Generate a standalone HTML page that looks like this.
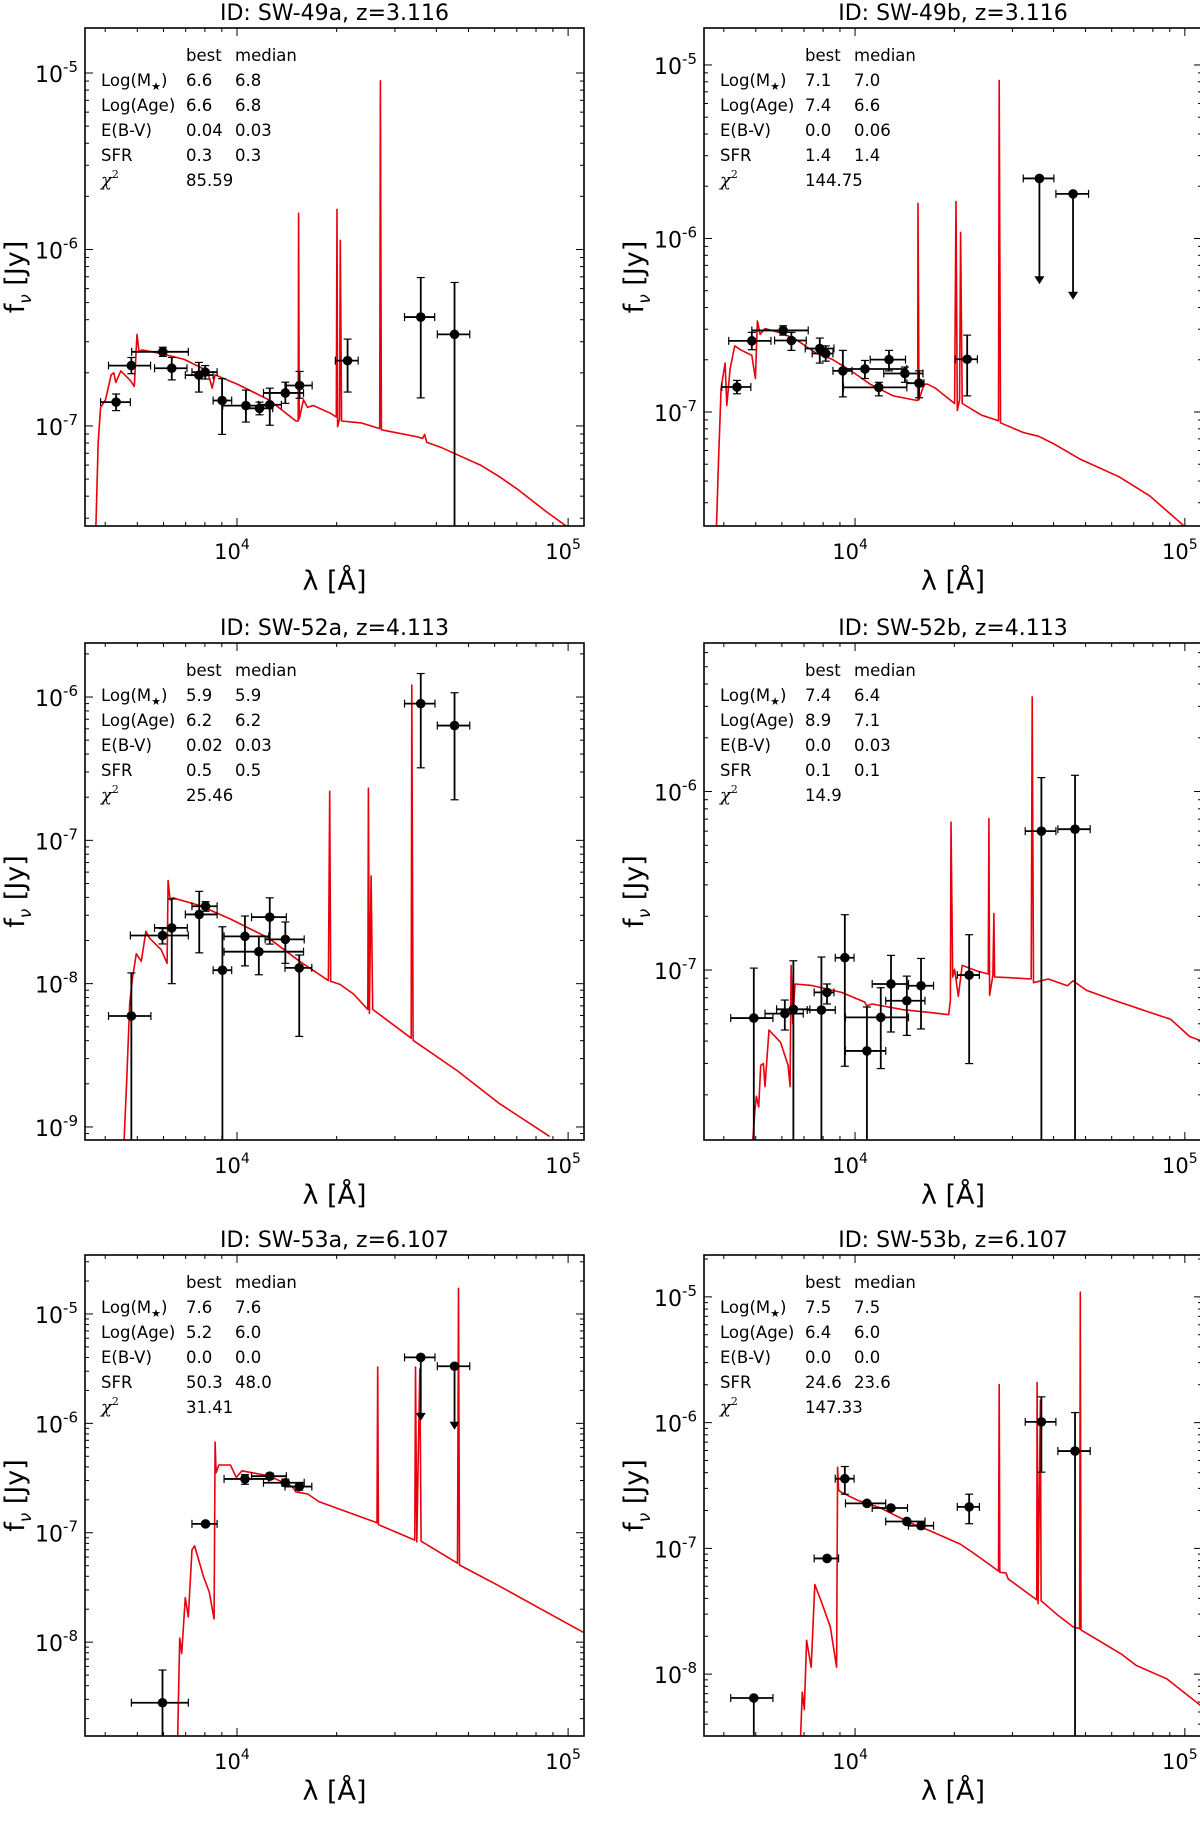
<!DOCTYPE html>
<html><head><meta charset="utf-8"><style>
html,body{margin:0;padding:0;background:#fff;}
svg{display:block;font-family:"DejaVu Sans","Liberation Sans",sans-serif;}
</style></head><body>
<svg id="fig" width="1200" height="1821" viewBox="0 0 1200 1821" xmlns="http://www.w3.org/2000/svg"></svg>
<script>
// All values stored as log10(lambda [Angstrom]) and log10(f_nu [Jy]).
// Points: [logLam, logLamLo, logLamHi, logF, logFLo, logFHi]; logFLo=-10 => bar to bottom
const panelTitles = ["ID: SW-49a, z=3.116","ID: SW-49b, z=3.116","ID: SW-52a, z=4.113","ID: SW-52b, z=4.113","ID: SW-53a, z=6.107","ID: SW-53b, z=6.107"];
const panelBest = [["6.6","6.6","0.04","0.3","85.59"],["7.1","7.4","0.0","1.4","144.75"],["5.9","6.2","0.02","0.5","25.46"],["7.4","8.9","0.0","0.1","14.9"],["7.6","5.2","0.0","50.3","31.41"],["7.5","6.4","0.0","24.6","147.33"]];
const panelMedian = [["6.8","6.8","0.03","0.3"],["7.0","6.6","0.06","1.4"],["5.9","6.2","0.03","0.5"],["6.4","7.1","0.03","0.1"],["7.6","6.0","0.0","48.0"],["7.5","6.0","0.0","23.6"]];
const panelYRange = [[-7.567,-4.745],[-7.657,-4.787],[-9.091,-5.623],[-7.952,-5.168],[-8.858,-4.461],[-8.492,-4.667]];
const panelYDecades = [[-7,-6,-5],[-7,-6,-5],[-9,-8,-7,-6],[-7,-6],[-8,-7,-6,-5],[-8,-7,-6,-5]];
const xDecades = [4,5];

const p1Points = [[3.635,3.588,3.678,-6.865,-6.913,-6.819],[3.681,3.612,3.739,-6.658,-6.704,-6.612],[3.776,3.682,3.853,-6.580,-6.606,-6.554],[3.803,3.751,3.849,-6.673,-6.739,-6.612],[3.885,3.844,3.928,-6.712,-6.808,-6.640],[3.904,3.864,3.940,-6.695,-6.734,-6.658],[3.955,3.928,3.984,-6.856,-7.048,-6.732],[4.027,3.957,4.096,-6.885,-6.978,-6.797],[4.068,4.027,4.108,-6.900,-6.937,-6.865],[4.099,4.065,4.134,-6.880,-6.996,-6.786],[4.146,4.080,4.201,-6.813,-6.872,-6.752],[4.189,4.149,4.227,-6.771,-6.843,-6.691],[4.334,4.297,4.366,-6.630,-6.808,-6.508],[4.555,4.506,4.597,-6.383,-6.841,-6.159],[4.657,4.605,4.703,-6.481,-10,-6.187]];
const p1Upper = [];
const p1Model = [[3.574,-7.567],[3.581,-7.092],[3.588,-6.895],[3.603,-6.852],[3.620,-6.710],[3.628,-6.699],[3.634,-6.754],[3.649,-6.688],[3.678,-6.743],[3.690,-6.776],[3.698,-6.481],[3.704,-6.580],[3.713,-6.569],[3.771,-6.590],[3.841,-6.623],[3.911,-6.688],[3.925,-6.786],[3.934,-6.710],[4.003,-6.765],[4.096,-6.852],[4.178,-6.972],[4.185,-6.972],[4.186,-5.795],[4.188,-6.961],[4.201,-6.852],[4.213,-6.895],[4.230,-6.884],[4.282,-6.928],[4.300,-6.950],[4.302,-5.773],[4.304,-7.004],[4.310,-6.961],[4.312,-5.948],[4.316,-6.972],[4.375,-6.983],[4.431,-7.015],[4.433,-5.044],[4.436,-7.022],[4.538,-7.059],[4.561,-7.070],[4.567,-7.048],[4.573,-7.092],[4.619,-7.124],[4.735,-7.222],[4.793,-7.288],[4.851,-7.364],[4.933,-7.484],[4.997,-7.571]];

const p2Points = [[3.642,3.596,3.684,-6.856,-6.895,-6.818],[3.687,3.617,3.745,-6.590,-6.641,-6.541],[3.782,3.687,3.858,-6.530,-6.557,-6.503],[3.807,3.756,3.852,-6.588,-6.645,-6.541],[3.893,3.849,3.936,-6.634,-6.718,-6.574],[3.911,3.870,3.933,-6.663,-6.707,-6.619],[3.963,3.933,3.991,-6.763,-6.913,-6.645],[4.030,3.965,4.157,-6.752,-6.807,-6.703],[4.072,3.965,4.157,-6.858,-6.907,-6.829],[4.103,4.046,4.153,-6.698,-6.763,-6.645],[4.151,4.087,4.206,-6.778,-6.829,-6.741],[4.194,4.157,4.209,-6.834,-6.918,-6.763],[4.340,4.304,4.371,-6.696,-6.907,-6.557]];
const p2Upper = [[4.559,4.510,4.603,-5.654,-6.264],[4.661,4.609,4.708,-5.743,-6.353]];
const p2Model = [[3.580,-7.656],[3.586,-7.284],[3.594,-6.863],[3.606,-6.718],[3.611,-6.962],[3.621,-6.752],[3.635,-6.619],[3.652,-6.641],[3.687,-6.674],[3.698,-6.807],[3.704,-6.475],[3.712,-6.552],[3.727,-6.519],[3.768,-6.541],[3.814,-6.574],[3.884,-6.663],[3.930,-6.696],[3.988,-6.763],[4.046,-6.840],[4.116,-6.907],[4.186,-6.933],[4.190,-6.933],[4.191,-5.798],[4.194,-6.929],[4.209,-6.840],[4.220,-6.840],[4.244,-6.863],[4.302,-6.951],[4.306,-5.787],[4.310,-6.991],[4.317,-6.929],[4.320,-5.965],[4.325,-6.951],[4.383,-7.018],[4.435,-7.051],[4.437,-5.089],[4.441,-7.062],[4.510,-7.118],[4.557,-7.140],[4.603,-7.184],[4.684,-7.273],[4.800,-7.373],[4.893,-7.483],[5.000,-7.661]];

const p3Points = [[3.681,3.612,3.740,-8.226,-10,-7.925],[3.775,3.678,3.853,-7.664,-7.723,-7.616],[3.803,3.751,3.850,-7.611,-8.000,-7.409],[3.886,3.844,3.940,-7.517,-7.785,-7.356],[3.905,3.864,3.940,-7.460,-7.495,-7.428],[3.956,3.928,3.984,-7.906,-10,-7.603],[4.024,3.961,4.096,-7.670,-7.876,-7.528],[4.066,3.961,4.201,-7.777,-7.938,-7.670],[4.099,4.044,4.149,-7.536,-7.724,-7.401],[4.146,4.085,4.203,-7.691,-7.858,-7.570],[4.188,4.145,4.226,-7.890,-8.368,-7.800],[4.555,4.506,4.598,-6.046,-6.494,-5.836],[4.657,4.605,4.703,-6.199,-6.717,-5.970]];
const p3Upper = [];
const p3Model = [[3.659,-9.093],[3.667,-8.677],[3.676,-8.140],[3.684,-7.965],[3.696,-7.791],[3.711,-7.844],[3.725,-7.635],[3.736,-7.683],[3.771,-7.764],[3.789,-7.858],[3.792,-7.281],[3.798,-7.415],[3.806,-7.401],[3.887,-7.455],[3.980,-7.549],[4.096,-7.683],[4.189,-7.844],[4.276,-7.979],[4.280,-6.658],[4.283,-7.984],[4.311,-8.005],[4.352,-8.072],[4.395,-8.180],[4.397,-6.636],[4.400,-8.207],[4.405,-7.248],[4.410,-8.180],[4.526,-8.381],[4.528,-5.917],[4.532,-8.395],[4.666,-8.609],[4.793,-8.838],[4.944,-9.066]];

const p4Points = [[3.693,3.623,3.751,-7.269,-10,-6.989],[3.787,3.727,3.843,-7.244,-7.336,-7.168],[3.813,3.762,3.863,-7.220,-10,-6.948],[3.898,3.855,3.940,-7.224,-10,-6.927],[3.915,3.876,3.936,-7.125,-7.190,-7.078],[3.969,3.940,3.997,-6.931,-7.539,-6.690],[4.036,3.971,4.093,-7.453,-10,-7.207],[4.078,3.971,4.162,-7.265,-7.552,-7.099],[4.109,4.052,4.162,-7.078,-7.347,-6.918],[4.157,4.093,4.212,-7.172,-7.366,-7.034],[4.200,4.162,4.238,-7.088,-7.330,-6.935],[4.346,4.310,4.377,-7.028,-7.524,-6.802],[4.565,4.516,4.609,-6.222,-10,-5.922],[4.667,4.615,4.713,-6.211,-10,-5.909]];
const p4Upper = [];
const p4Model = [[3.690,-7.955],[3.696,-7.793],[3.701,-7.707],[3.708,-7.767],[3.714,-7.534],[3.722,-7.524],[3.727,-7.653],[3.739,-7.336],[3.774,-7.405],[3.797,-7.534],[3.803,-7.653],[3.806,-6.974],[3.811,-7.297],[3.818,-7.078],[3.867,-7.086],[3.959,-7.125],[4.029,-7.179],[4.035,-7.200],[4.052,-7.190],[4.145,-7.222],[4.226,-7.237],[4.284,-7.250],[4.289,-7.168],[4.291,-6.172],[4.296,-7.039],[4.302,-6.996],[4.313,-7.147],[4.325,-6.974],[4.371,-7.006],[4.404,-7.022],[4.406,-6.151],[4.408,-7.142],[4.418,-7.028],[4.421,-6.683],[4.423,-7.039],[4.470,-7.043],[4.534,-7.050],[4.537,-5.470],[4.541,-7.071],[4.586,-7.050],[4.644,-7.088],[4.661,-7.060],[4.702,-7.114],[4.783,-7.168],[4.887,-7.233],[4.957,-7.276],[5.015,-7.373],[5.056,-7.401]];

const p5Points = [[3.775,3.681,3.853,-8.554,-10,-8.255],[3.905,3.864,3.940,-6.919,-6.935,-6.905],[4.024,3.961,4.096,-6.508,-6.557,-6.469],[4.099,4.044,4.149,-6.483,-6.510,-6.455],[4.146,4.080,4.203,-6.543,-6.575,-6.510],[4.188,4.145,4.226,-6.578,-6.610,-6.545]];
const p5Upper = [[4.555,4.506,4.598,-5.397,-5.977],[4.657,4.605,4.703,-5.478,-6.058]];
const p5Model = [[3.821,-8.859],[3.827,-7.963],[3.833,-8.104],[3.844,-7.594],[3.853,-7.770],[3.864,-7.155],[3.872,-7.120],[3.899,-7.401],[3.916,-7.541],[3.931,-7.787],[3.934,-6.170],[3.937,-6.452],[3.945,-6.381],[3.980,-6.381],[3.998,-6.494],[4.015,-6.434],[4.096,-6.480],[4.166,-6.575],[4.178,-6.627],[4.213,-6.645],[4.247,-6.715],[4.423,-6.909],[4.425,-5.485],[4.427,-6.926],[4.537,-7.067],[4.539,-5.485],[4.543,-7.084],[4.552,-5.503],[4.556,-7.077],[4.666,-7.278],[4.669,-4.765],[4.672,-7.295],[4.793,-7.489],[4.909,-7.682],[5.046,-7.910]];

const p6Points = [[3.693,3.623,3.751,-8.190,-10,-8.190],[3.915,3.876,3.950,-7.080,-7.090,-7.070],[3.969,3.940,3.997,-6.446,-6.569,-6.349],[4.036,3.971,4.093,-6.642,-6.660,-6.625],[4.109,4.052,4.159,-6.679,-6.695,-6.665],[4.157,4.093,4.212,-6.786,-6.800,-6.770],[4.200,4.162,4.238,-6.820,-6.835,-6.805],[4.346,4.310,4.377,-6.670,-6.804,-6.569],[4.565,4.516,4.609,-5.994,-6.394,-5.795],[4.667,4.615,4.713,-6.226,-10,-5.920]];
const p6Upper = [];
const p6Model = [[3.835,-8.489],[3.840,-8.144],[3.846,-8.281],[3.853,-7.731],[3.867,-7.945],[3.878,-7.287],[3.896,-7.410],[3.925,-7.624],[3.944,-7.945],[3.947,-6.355],[3.950,-6.538],[3.959,-6.554],[4.006,-6.615],[4.075,-6.676],[4.168,-6.798],[4.226,-6.859],[4.319,-6.966],[4.354,-7.028],[4.435,-7.180],[4.437,-5.697],[4.439,-7.190],[4.458,-7.196],[4.464,-7.242],[4.551,-7.410],[4.552,-5.682],[4.555,-7.440],[4.562,-5.820],[4.564,-7.416],[4.615,-7.532],[4.661,-7.624],[4.681,-7.639],[4.683,-4.963],[4.685,-7.648],[4.806,-7.838],[4.852,-7.930],[4.945,-8.037],[5.056,-8.266]];

const allPoints = [p1Points,p2Points,p3Points,p4Points,p5Points,p6Points];
const allUpper = [p1Upper,p2Upper,p3Upper,p4Upper,p5Upper,p6Upper];
const allModels = [p1Model,p2Model,p3Model,p4Model,p5Model,p6Model];

// Layout (not data)
const frames = [[85,28,584,526],[704,28,1202,526],[85,643,584,1140],[704,643,1202,1140],[85,1255,584,1736],[704,1255,1202,1736]];
const xRanges = [[3.541,5.048],[3.542,5.052]];
const NS = "http://www.w3.org/2000/svg";
const svg = document.getElementById('fig');
function mk(tag, attrs, parent, text){
  const e = document.createElementNS(NS, tag);
  for (const k in attrs) e.setAttribute(k, attrs[k]);
  if (text !== undefined) e.textContent = text;
  (parent||svg).appendChild(e);
  return e;
}
const defs = mk('defs', {});
const rowLabels = ["Log(M","Log(Age)","E(B-V)","SFR"];

for (let p = 0; p < 6; p++){
  const [x0,y0,x1,y1] = frames[p];
  const col = p % 2;
  const [lx0,lx1] = xRanges[col];
  const [ly0,ly1] = panelYRange[p];
  const X = v => x0 + (v - lx0) / (lx1 - lx0) * (x1 - x0);
  const Y = v => y1 - (v - ly0) / (ly1 - ly0) * (y1 - y0);
  const g = mk('g', {});
  
  
  const cp = mk('clipPath', {id: 'clip' + p}, defs);
  mk('rect', {x: x0, y: y0, width: x1 - x0, height: y1 - y0}, cp);

  const t = mk('text', {x: (x0+x1)/2, y: y0 - 8, 'text-anchor':'middle', 'font-size': 22}, g, panelTitles[p]);
  
  

  const plot = mk('g', {'clip-path': 'url(#clip' + p + ')'}, g);
  const d = allModels[p].map((pt,i) => (i ? 'L' : 'M') + X(pt[0]).toFixed(1) + ' ' + Y(pt[1]).toFixed(1)).join(' ');
  const model = mk('path', {d: d, fill: 'none', stroke: '#e8000b', 'stroke-width': 1.6, 'stroke-linejoin': 'round'}, plot);
  
  

  allPoints[p].forEach(pt => {
    const pg = mk('g', {stroke: '#000', 'stroke-width': 1.8}, plot);
    
    
    const cx = X(pt[0]), cy = Y(pt[3]);
    const xa = X(pt[1]), xb = X(pt[2]);
    const ya = pt[4] <= -9.9 ? y1 + 5 : Y(pt[4]);
    const yb = Y(pt[5]);
    mk('line', {x1: xa, y1: cy, x2: xb, y2: cy}, pg);
    mk('line', {x1: xa, y1: cy-4, x2: xa, y2: cy+4, 'stroke-width': 1.2}, pg);
    mk('line', {x1: xb, y1: cy-4, x2: xb, y2: cy+4, 'stroke-width': 1.2}, pg);
    mk('line', {x1: cx, y1: ya, x2: cx, y2: yb}, pg);
    if (pt[4] > -9.9) mk('line', {x1: cx-4, y1: ya, x2: cx+4, y2: ya, 'stroke-width': 1.2}, pg);
    if (pt[5] > pt[3] + 0.005) mk('line', {x1: cx-4, y1: yb, x2: cx+4, y2: yb, 'stroke-width': 1.2}, pg);
    mk('circle', {cx: cx, cy: cy, r: 4.8, fill: '#000', stroke: 'none'}, pg);
  });
  allUpper[p].forEach(pt => {
    const pg = mk('g', {stroke: '#000', 'stroke-width': 1.8}, plot);
    
    
    const cx = X(pt[0]), cy = Y(pt[3]), ye = Y(pt[4]);
    const xa = X(pt[1]), xb = X(pt[2]);
    mk('line', {x1: xa, y1: cy, x2: xb, y2: cy}, pg);
    mk('line', {x1: xa, y1: cy-4, x2: xa, y2: cy+4, 'stroke-width': 1.2}, pg);
    mk('line', {x1: xb, y1: cy-4, x2: xb, y2: cy+4, 'stroke-width': 1.2}, pg);
    mk('line', {x1: cx, y1: cy, x2: cx, y2: ye - 6}, pg);
    mk('path', {d: `M${cx-5} ${ye-8} L${cx+5} ${ye-8} L${cx} ${ye} Z`, fill: '#000', stroke: 'none'}, pg);
    mk('circle', {cx: cx, cy: cy, r: 4.8, fill: '#000', stroke: 'none'}, pg);
  });

  const fr = mk('rect', {x: x0, y: y0, width: x1 - x0, height: y1 - y0, fill: 'none', stroke: '#000', 'stroke-width': 1.6}, g);
  
  

  const xt = mk('g', {stroke: '#000', 'stroke-width': 1}, g);
  
  
  for (let dec = 3; dec <= 5; dec++){
    for (let m = 1; m <= 9; m++){
      const v = dec + Math.log10(m);
      if (v < lx0 || v > lx1) continue;
      const L = m === 1 ? 8 : 4;
      const xx = X(v);
      mk('line', {x1: xx, y1: y1, x2: xx, y2: y1 - L}, xt);
      mk('line', {x1: xx, y1: y0, x2: xx, y2: y0 + L}, xt);
    }
  }
  xDecades.forEach(dec => {
    const lab = mk('text', {x: X(dec) - 5, y: y1 + 33, 'text-anchor': 'middle', 'font-size': 21}, g);
    
    
    mk('tspan', {}, lab, '10');
    mk('tspan', {dy: -10, 'font-size': 14}, lab, String(dec));
  });
  const yt = mk('g', {stroke: '#000', 'stroke-width': 1}, g);
  
  
  for (let dec = -10; dec <= -4; dec++){
    for (let m = 1; m <= 9; m++){
      const v = dec + Math.log10(m);
      if (v < ly0 || v > ly1) continue;
      const L = m === 1 ? 8 : 4;
      const yy = Y(v);
      mk('line', {x1: x0, y1: yy, x2: x0 + L, y2: yy}, yt);
      mk('line', {x1: x1, y1: yy, x2: x1 - L, y2: yy}, yt);
    }
  }
  panelYDecades[p].forEach(dec => {
    const lab = mk('text', {x: x0 - 7, y: Y(dec) + 9, 'text-anchor': 'end', 'font-size': 22}, g);
    
    
    mk('tspan', {}, lab, '10');
    mk('tspan', {dy: -10, 'font-size': 15}, lab, String(dec));
  });
  const xl = mk('text', {x: (x0+x1)/2, y: y1 + 64, 'text-anchor': 'middle', 'font-size': 27}, g, 'λ [Å]');
  
  
  const ylx = col === 0 ? 24 : 643;
  const yl = mk('text', {x: ylx, y: (y0+y1)/2, 'text-anchor': 'middle', 'font-size': 27, transform: `rotate(-90 ${ylx} ${(y0+y1)/2})`}, g);
  
  
  mk('tspan', {}, yl, 'f');
  mk('tspan', {dy: 7, 'font-size': 17, 'font-style': 'italic'}, yl, 'ν');
  mk('tspan', {dy: -7}, yl, ' [Jy]');

  const ax = x0 + 16, bx = x0 + 101, mx = x0 + 150;
  const ann = mk('g', {'font-size': 16.5}, g);
  
  
  const top = y0 + 33;
  mk('text', {x: bx, y: top}, ann, 'best');
  mk('text', {x: mx, y: top}, ann, 'median');
  for (let r = 0; r < 4; r++){
    const yy = top + 25 * (r + 1);
    const lt = mk('text', {x: ax, y: yy}, ann, rowLabels[r]);
    if (r === 0){
      mk('tspan', {dy: 4, 'font-size': 11}, lt, '★');
      mk('tspan', {dy: -4}, lt, ')');
    }
    mk('text', {x: bx, y: yy}, ann, panelBest[p][r]);
    mk('text', {x: mx, y: yy}, ann, panelMedian[p][r]);
  }
  const cy2 = top + 125;
  const chi = mk('text', {x: ax, y: cy2, 'font-family': '"DejaVu Serif","Liberation Serif",serif', 'font-style': 'italic', 'font-size': 18}, ann, 'χ');
  mk('tspan', {dy: -8, 'font-size': 11, 'font-style': 'normal'}, chi, '2');
  mk('text', {x: bx, y: cy2}, ann, panelBest[p][4]);
}
</script>
</body></html>
